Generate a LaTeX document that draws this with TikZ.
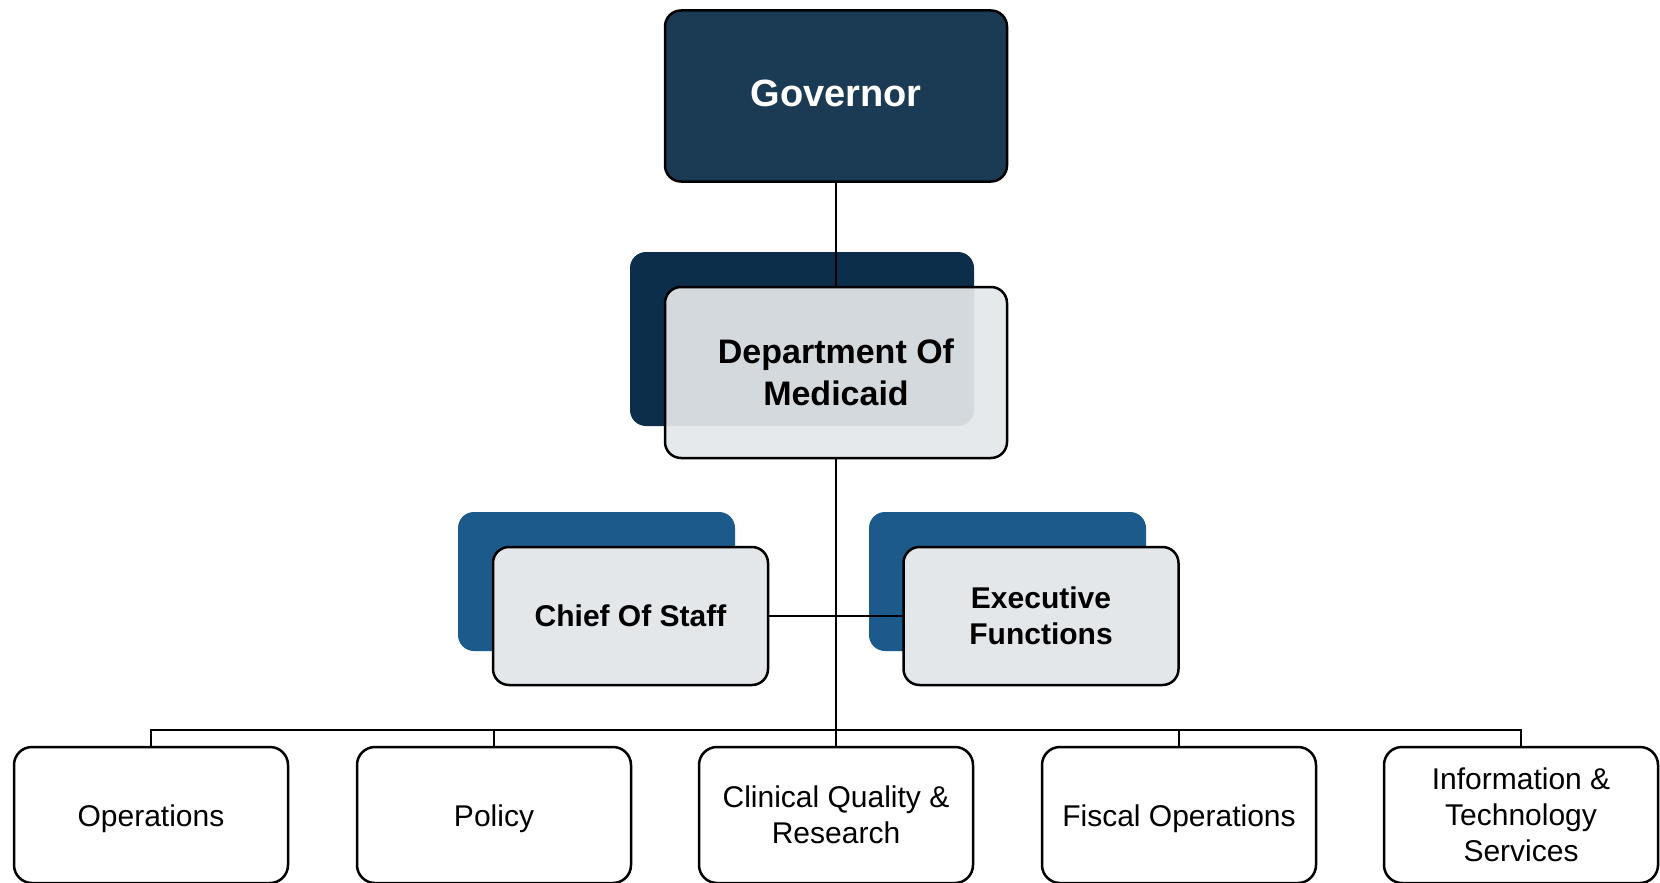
\documentclass[tikz,border=0pt]{standalone}
\usepackage{fontspec}
\setmainfont{Liberation Sans}
\definecolor{govblue}{HTML}{1B3A53}
\definecolor{deptnavy}{HTML}{0C2E4A}
\definecolor{midblue}{HTML}{1C5A8B}
\definecolor{paleg}{HTML}{E4E7EA}
\tikzset{
  box/.style={draw=black, line width=1.25pt, rounded corners=8pt, align=center, inner sep=0pt},
  govbox/.style={box, fill=govblue, text=white, minimum width=171pt, minimum height=85.5pt, text height=11pt, text depth=0pt, font=\fontsize{19}{23}\selectfont\bfseries},
  deptfront/.style={box, fill=paleg, fill opacity=0.93, text opacity=1, minimum width=171pt, minimum height=85.5pt, font=\fontsize{17}{21}\selectfont\bfseries},
  deptshadow/.style={fill=deptnavy, rounded corners=8pt, minimum width=172pt, minimum height=87pt, inner sep=0pt},
  midshadow/.style={fill=midblue, rounded corners=8pt, minimum width=138.5pt, minimum height=69.5pt, inner sep=0pt},
  midfront/.style={box, fill=paleg, minimum width=137.5pt, minimum height=69pt, font=\fontsize{15}{18}\selectfont\bfseries},
  lowbox/.style={box, fill=white, rounded corners=9pt, minimum width=137pt, minimum height=68pt, font=\fontsize{15}{18}\selectfont},
  oneline/.style={text height=11.8pt, text depth=0pt},
  link/.style={draw=black, line width=1.2pt}
}
\begin{document}
\begin{tikzpicture}[x=0.5pt, y=-0.5pt]
\useasboundingbox (0,0) rectangle (1660,883);
% Governor
\node[govbox] (gov) at (836,96) {Governor};
% Department
\node[deptshadow] (depts) at (802,339) {};
\node[deptfront] (dept) at (836,372.5) {Department Of\\Medicaid};
\draw[link] (gov.south) -- (dept.north);
% middle level
\node[midshadow] (cos_s) at (596.5,581.5) {};
\node[midshadow] (exe_s) at (1007.5,581.5) {};
\coordinate (bus) at (836,730);
\draw[link] (dept.south) -- (bus);
\node[midfront] (cos) at (630.5,616) {Chief Of Staff};
\node[midfront] (exe) at (1041,616) {Executive\\Functions};
\draw[link] (cos.east) -- (exe.west);
% bottom level
\node[lowbox, oneline] (ops) at (151,815) {Operations};
\node[lowbox, oneline] (pol) at (494,815) {Policy};
\node[lowbox] (cqr) at (836,815) {Clinical Quality \&\\Research};
\node[lowbox, oneline] (fis) at (1179,815) {Fiscal Operations};
\node[lowbox] (its) at (1521,815) {Information \&\\Technology\\Services};
\draw[link] (ops.north) |- (bus) -| (its.north);
\draw[link] (pol.north) |- (bus);
\draw[link] (fis.north) |- (bus);
\draw[link] (bus) -- (cqr.north);
\end{tikzpicture}
\end{document}
